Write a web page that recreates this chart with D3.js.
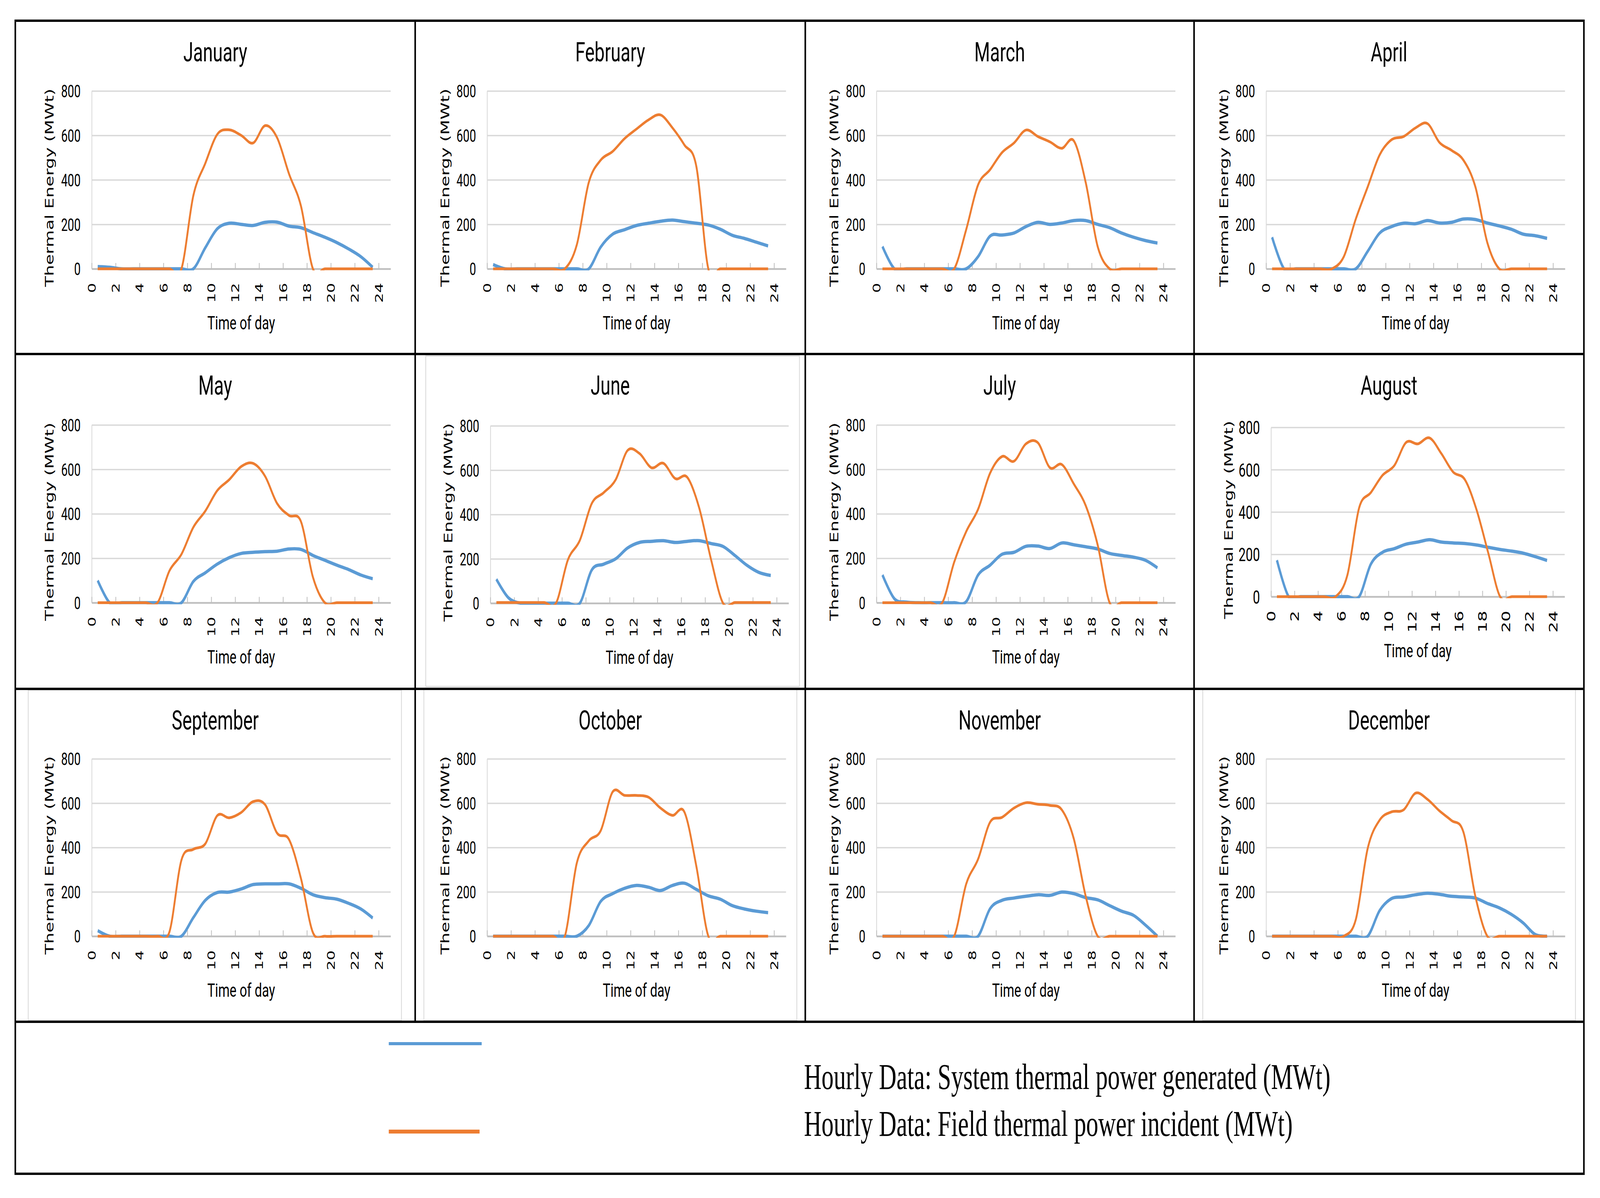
<!DOCTYPE html>
<html>
<head>
<meta charset="utf-8">
<script src="https://cdn.jsdelivr.net/npm/d3@7"></script>
<style>
  html, body { margin: 0; padding: 0; background: #fff; overflow: hidden; }
  #vis svg { display: block; width: 100vw; height: 100vh; }
</style>
</head>
<body>
<div id="vis"></div>
<script>
// ---- data ----
const months = ["January", "February", "March", "April", "May", "June",
                "July", "August", "September", "October", "November", "December"];

const hours = [0.5, 1.5, 2.5, 3.5, 4.5, 5.5, 6.5, 7.5, 8.5, 9.5, 10.5, 11.5,
               12.5, 13.5, 14.5, 15.5, 16.5, 17.5, 18.5, 19.5, 20.5, 21.5, 22.5, 23.5];

const xTicks = [0, 2, 4, 6, 8, 10, 12, 14, 16, 18, 20, 22, 24];
const yTicks = [0, 200, 400, 600, 800];

// System thermal power generated (MWt), one row per month
const systemPower = [
    [10, 7, 0, 0, 0, 0, 0, 0, 0, 95, 180, 205, 200, 195, 209, 210, 192, 185, 163, 142, 118, 89, 55, 7],
    [19, 0, 0, 0, 0, 0, 0, 0, 0, 98, 156, 176, 195, 205, 214, 219, 212, 205, 197, 178, 151, 137, 120, 103],
    [100, 0, 0, 0, 0, 0, 0, 0, 55, 147, 152, 161, 190, 209, 200, 206, 217, 217, 200, 185, 161, 142, 127, 116],
    [142, 0, 0, 0, 0, 0, 0, 0, 79, 161, 190, 205, 203, 217, 206, 209, 224, 222, 206, 193, 178, 156, 149, 137],
    [100, 0, 0, 0, 0, 0, 0, 0, 96, 135, 174, 203, 222, 227, 230, 232, 242, 240, 213, 191, 169, 149, 125, 108],
    [108, 25, 0, 0, 0, 0, 0, 0, 150, 176, 200, 249, 274, 279, 282, 274, 279, 282, 269, 256, 215, 171, 139, 125],
    [125, 18, 3, 0, 0, 0, 0, 5, 125, 169, 218, 227, 254, 255, 244, 269, 261, 252, 242, 222, 213, 205, 191, 157],
    [172, 0, 0, 0, 0, 0, 0, 0, 154, 210, 227, 248, 258, 269, 258, 254, 251, 244, 233, 223, 215, 205, 189, 171],
    [25, 0, 0, 0, 0, 0, 0, 0, 84, 162, 197, 199, 213, 233, 236, 236, 236, 216, 187, 174, 167, 148, 123, 82],
    [0, 0, 0, 0, 0, 0, 0, 0, 48, 157, 192, 216, 229, 221, 206, 229, 239, 211, 182, 167, 138, 123, 113, 106],
    [0, 0, 0, 0, 0, 0, 0, 0, 0, 124, 162, 172, 180, 187, 184, 199, 192, 174, 164, 138, 113, 94, 50, 0],
    [0, 0, 0, 0, 0, 0, 0, 0, 0, 116, 170, 177, 187, 194, 189, 180, 177, 172, 148, 128, 99, 60, 8, 0]
];

// Field thermal power incident (MWt), one row per month
const fieldPower = [
    [0, 0, 0, 0, 0, 0, 0, 0, 330, 475, 605, 625, 600, 566, 644, 590, 427, 282, 0, 0, 0, 0, 0, 0],
    [0, 0, 0, 0, 0, 0, 0, 108, 388, 489, 528, 586, 629, 670, 692, 634, 557, 460, 0, 0, 0, 0, 0, 0],
    [0, 0, 0, 0, 0, 0, 0, 176, 378, 446, 523, 566, 624, 595, 571, 542, 576, 388, 100, 0, 0, 0, 0, 0],
    [0, 0, 0, 0, 0, 0, 55, 224, 369, 513, 581, 595, 634, 653, 568, 533, 489, 369, 118, 0, 0, 0, 0, 0],
    [0, 0, 0, 0, 0, 0, 144, 218, 340, 413, 505, 554, 613, 627, 569, 447, 393, 365, 115, 0, 0, 0, 0, 0],
    [3, 3, 3, 3, 3, 0, 196, 284, 450, 499, 557, 689, 675, 611, 631, 562, 568, 430, 196, 0, 3, 3, 3, 3],
    [0, 0, 0, 0, 0, 0, 183, 320, 421, 583, 658, 637, 715, 720, 608, 622, 535, 437, 260, 0, 0, 0, 0, 0],
    [0, 0, 0, 0, 0, 0, 102, 420, 492, 574, 620, 729, 722, 750, 676, 589, 553, 410, 205, 0, 0, 0, 0, 0],
    [0, 0, 0, 0, 0, 0, 20, 343, 392, 417, 544, 534, 558, 607, 593, 465, 436, 260, 16, 0, 0, 0, 0, 0],
    [0, 0, 0, 0, 0, 0, 0, 330, 430, 476, 651, 635, 635, 627, 578, 545, 560, 315, 0, 0, 0, 0, 0, 0],
    [0, 0, 0, 0, 0, 0, 0, 235, 348, 514, 536, 578, 602, 595, 590, 570, 440, 180, 0, 0, 0, 0, 0, 0],
    [0, 0, 0, 0, 0, 0, 0, 75, 397, 524, 561, 570, 645, 617, 565, 522, 470, 180, 0, 0, 0, 0, 0, 0]
];

const seriesNames = [
    "Hourly Data: System thermal power generated (MWt)",
    "Hourly Data: Field thermal power incident (MWt)"
];

// ---- layout (in picture pixels; the svg is stretched over the window) ----
const width = 6062, height = 3066;
const colX = [58, 1573, 3051, 4524, 6001];   // table column borders
const rowY = [53, 906, 1763, 2615, 3004];    // table row borders

// plot area of each small chart: left edge, top (800), bottom (0), px per hour
const plots = [
    { left: 347.6, top: 232.7, bottom: 688, hour: 45.3 },
    { left: 1845.6, top: 232.7, bottom: 688, hour: 45.3 },
    { left: 3320.8, top: 232.7, bottom: 688, hour: 45.3 },
    { left: 4797, top: 232.7, bottom: 688, hour: 45.3 },
    { left: 347.6, top: 1087.6, bottom: 1542.6, hour: 45.3 },
    { left: 1858, top: 1089.8, bottom: 1543.7, hour: 45.2 },
    { left: 3320.8, top: 1087.6, bottom: 1542.6, hour: 45.3 },
    { left: 4815.7, top: 1093.7, bottom: 1527, hour: 44.5, big: true },
    { left: 347.6, top: 1942, bottom: 2396, hour: 45.3 },
    { left: 1845.6, top: 1942, bottom: 2396, hour: 45.3 },
    { left: 3320.8, top: 1942, bottom: 2396, hour: 45.3 },
    { left: 4797, top: 1942, bottom: 2396, hour: 45.3 }
];

// light grey chart-area frames visible in some cells [x0, y0, x1, y1]
const frames = {
    5: [1613, 911, 3029, 1757],
    8: [107, 1766, 1521, 2612],
    9: [1606, 1764, 3019, 2612],
    11: [4557, 1764, 5969, 2612]
};

const blue = "#5B9BD5", orange = "#ED7D31";
const narrow = "Roboto, 'Liberation Sans', sans-serif";
const wide = "'DejaVu Sans', Verdana, sans-serif";

const svg = d3.select("#vis")
    .append("svg")
    .attr("viewBox", `0 0 ${width} ${height}`)
    .attr("preserveAspectRatio", "none");

svg.append("rect").attr("width", width).attr("height", height).attr("fill", "#fff");

const defs = svg.append("defs");

months.forEach((month, i) => {
    const p = plots[i];
    const col = i % 4, row = Math.floor(i / 4);
    const cellCx = (colX[col] + colX[col + 1]) / 2;
    const plotW = 25 * p.hour;

    const x = d3.scaleLinear().domain([0, 25]).range([p.left, p.left + plotW]);
    const y = d3.scaleLinear().domain([0, 800]).range([p.bottom, p.top]);

    const g = svg.append("g").attr("class", "panel");

    if (frames[i]) {
        const f = frames[i];
        g.append("rect")
            .attr("x", f[0]).attr("y", f[1])
            .attr("width", f[2] - f[0]).attr("height", f[3] - f[1])
            .attr("fill", "none")
            .attr("stroke", "#D9D9D9")
            .attr("stroke-width", 3);
    }

    // title
    g.append("text")
        .attr("x", cellCx)
        .attr("y", rowY[row] + 104)
        .attr("text-anchor", "middle")
        .style("font-family", narrow)
        .style("font-size", "68px")
        .style("fill", "#000")
        .text(month);

    // y axis + gridlines
    const yAxis = g.append("g")
        .attr("transform", `translate(${p.left},0)`)
        .call(d3.axisLeft(y).tickValues(yTicks).tickSize(-plotW).tickSizeOuter(0).tickPadding(42));
    yAxis.select(".domain").attr("stroke", "#D9D9D9").attr("stroke-width", 3);
    yAxis.selectAll(".tick line")
        .attr("stroke", "#D9D9D9")
        .attr("stroke-width", 3.5)
        .filter(d => d === 0).remove();
    yAxis.selectAll(".tick text")
        .attr("dy", "0.36em")
        .style("font-family", narrow)
        .style("font-size", p.big ? "48px" : "44px")
        .style("fill", "#000");

    // x axis at zero
    const xAxis = g.append("g")
        .attr("transform", `translate(0,${p.bottom})`)
        .call(d3.axisBottom(x).tickValues(xTicks).tickSize(-15).tickSizeOuter(0));
    xAxis.select(".domain").attr("stroke", "#BFBFBF").attr("stroke-width", 4.5);
    xAxis.selectAll(".tick line").attr("stroke", "#BFBFBF").attr("stroke-width", 3);
    xAxis.selectAll(".tick text")
        .attr("transform", "rotate(-90)")
        .attr("text-anchor", "end")
        .attr("x", -36)
        .attr("y", 0)
        .attr("dy", "0.36em")
        .style("font-family", wide)
        .style("font-size", p.big ? "44px" : "40px")
        .style("fill", "#000");

    // axis titles
    g.append("text")
        .attr("x", x(12.5))
        .attr("y", p.bottom + 155)
        .attr("text-anchor", "middle")
        .style("font-family", narrow)
        .style("font-size", "49px")
        .style("fill", "#000")
        .text("Time of day");

    const ly = (p.top + p.bottom) / 2 + 20;
    g.append("text")
        .attr("transform", `translate(${p.left - 160},${ly}) rotate(-90)`)
        .attr("text-anchor", "middle")
        .attr("dy", "0.35em")
        .style("font-family", wide)
        .style("font-size", "45px")
        .style("fill", "#000")
        .text("Thermal Energy (MWt)");

    // series, clipped to the plot area like the spreadsheet does
    const clipId = "clip" + i;
    defs.append("clipPath").attr("id", clipId)
        .append("rect")
        .attr("x", p.left)
        .attr("y", p.top - 6)
        .attr("width", plotW)
        .attr("height", p.bottom - p.top + 10);

    const line = d3.line()
        .x((d, k) => x(hours[k]))
        .y(d => y(d))
        .curve(d3.curveCardinal.tension(0));

    const lines = g.append("g").attr("clip-path", `url(#${clipId})`);
    lines.append("path")
        .datum(systemPower[i])
        .attr("d", line)
        .attr("fill", "none")
        .attr("stroke", blue)
        .attr("stroke-width", 8.5)
        .attr("stroke-linejoin", "round");
    lines.append("path")
        .datum(fieldPower[i])
        .attr("d", line)
        .attr("fill", "none")
        .attr("stroke", orange)
        .attr("stroke-width", 7)
        .attr("stroke-linejoin", "round");
});

// table borders
const borders = svg.append("g")
    .attr("stroke", "#000")
    .attr("stroke-width", 6)
    .attr("fill", "none");
borders.append("rect")
    .attr("x", colX[0]).attr("y", rowY[0])
    .attr("width", colX[4] - colX[0]).attr("height", rowY[4] - rowY[0]);
[1, 2, 3].forEach(c => {
    borders.append("line")
        .attr("x1", colX[c]).attr("x2", colX[c])
        .attr("y1", rowY[0]).attr("y2", rowY[3]);
    borders.append("line")
        .attr("x1", colX[0]).attr("x2", colX[4])
        .attr("y1", rowY[c]).attr("y2", rowY[c]);
});

// legend
const legend = svg.append("g");
const legendColors = [blue, orange];
const legendLineY = [2671, 2896];
const legendTextY = [2787, 2907];

legend.selectAll("line.key")
    .data(seriesNames)
    .join("line")
    .attr("class", "key")
    .attr("x1", 1473)
    .attr("x2", (d, k) => k === 0 ? 1825 : 1817)
    .attr("y1", (d, k) => legendLineY[k])
    .attr("y2", (d, k) => legendLineY[k])
    .attr("stroke", (d, k) => legendColors[k])
    .attr("stroke-width", (d, k) => k === 0 ? 8 : 10);

const legendText = legend.selectAll("text.key")
    .data(seriesNames)
    .join("text")
    .attr("class", "key")
    .attr("x", 3046)
    .attr("y", (d, k) => legendTextY[k])
    .style("font-family", "'Liberation Serif', 'Times New Roman', serif")
    .style("font-size", "80px")
    .style("fill", "#000")
    .text(d => d);

// fit the first legend line to the width it has in the picture
const firstW = legendText.node().getComputedTextLength();
legendText.style("font-size", (80 * 1995 / firstW) + "px");
</script>
</body>
</html>
